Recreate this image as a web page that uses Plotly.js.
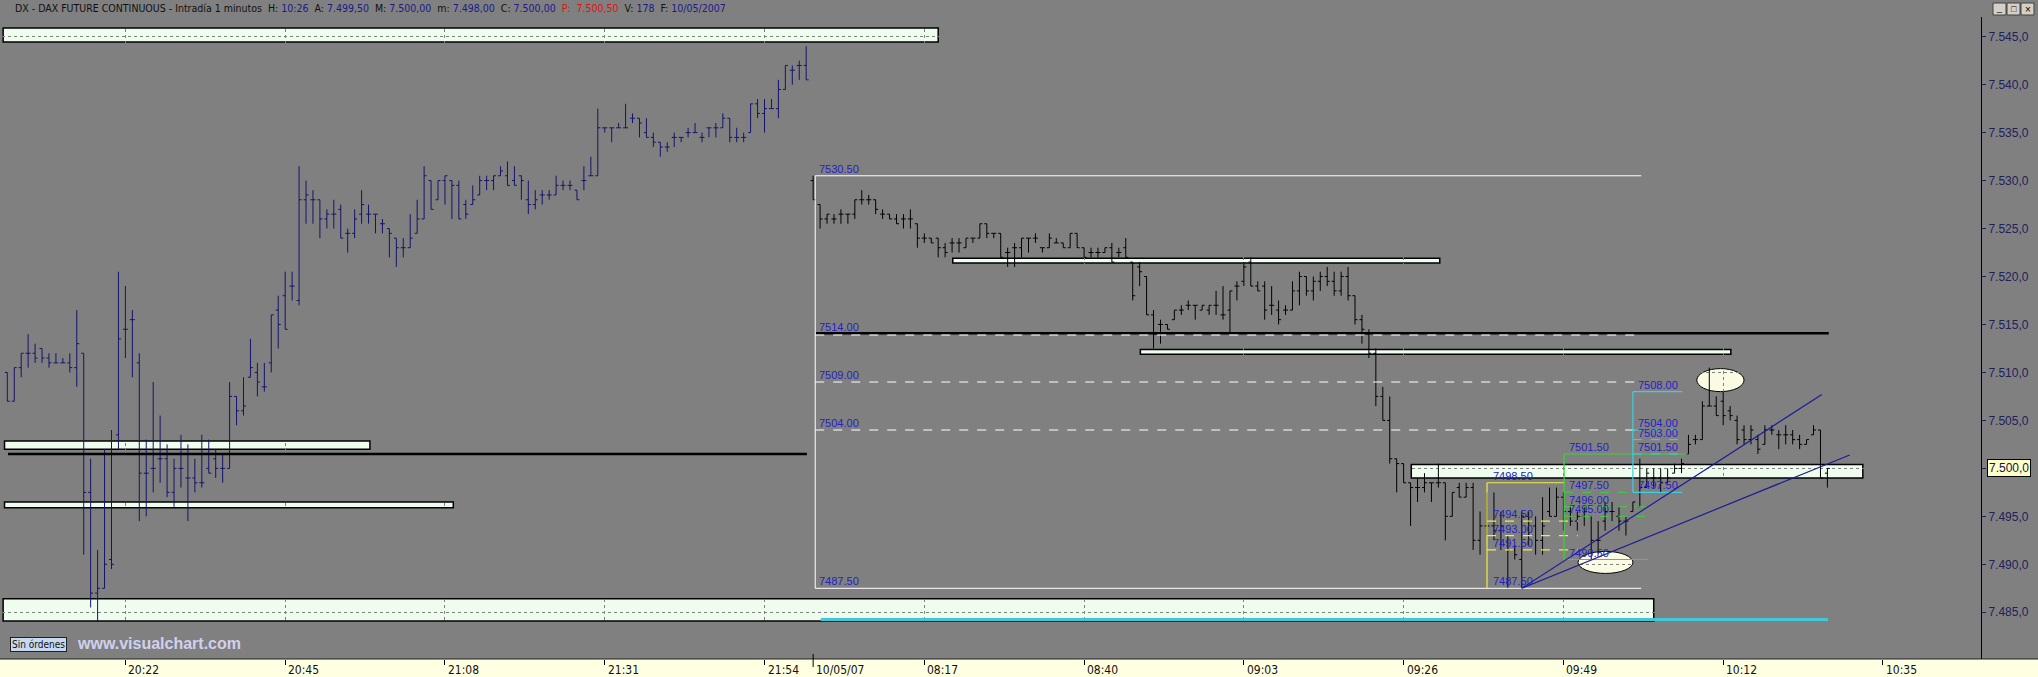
<!DOCTYPE html>
<html><head><meta charset="utf-8">
<script src="https://cdn.plot.ly/plotly-3.0.1.min.js"></script>
<style>html,body{margin:0;padding:0;background:#808080;overflow:hidden}</style>
</head><body><div id="chart" style="width:2038px;height:677px"></div>
<script>
// ---------- DATA ----------
// previous session (20:05 - 22:00), 1-minute bars
const leftOpen = [7510,7507,7510.5,7512,7512,7512.5,7511.5,7511,7511,7511,
7510.5,7512,7497.5,7487,7487.5,7490.5,7503.5,7514.5,7515.5,7511,
7499.5,7500,7501,7501,7497.5,7500,7499,7499,7498.5,7500,
7501,7500,7500,7507.5,7506,7509.5,7510,7508.5,7511,7516.5,
7518,7519,7517.5,7528,7528,7528,7526,7526.5,7527,7524.5,
7524.5,7526.5,7526.5,7526.5,7525.5,7525,7524,7523,7523,7524.5,
7526,7530,7528,7530,7530,7529.5,7527.5,7527.5,7528.5,7530,
7530,7530.5,7530.5,7530,7530.5,7528,7527.5,7528.5,7528.5,7528.5,
7529.5,7529.5,7529,7530,7530.5,7530.5,7535.5,7535.5,7535.5,7535.5,
7536.5,7536.5,7535,7534.5,7534,7533.5,7534.5,7534.5,7535,7535,
7534.5,7535.5,7535.5,7535.5,7536.5,7534.5,7534.5,7535,7538,7537,
7537.5,7537.5,7539.5,7541.5,7542,7542];
const leftHigh = [7510,7510.5,7512,7514,7513,7512.5,7512,7512,7511.5,7512,
7516.5,7512,7501,7491.5,7502,7504,7520.5,7519,7516.5,7512,
7503,7509,7505.5,7502.5,7501,7503.5,7502.5,7501,7503.5,7503,
7502,7501.5,7509,7507.5,7509.5,7513.5,7511,7511,7516,7518,
7520.5,7520.5,7531.5,7530,7529,7528,7527,7528,7527.5,7525,
7527,7529,7527.5,7526.5,7526,7525,7524,7524,7526.5,7528,
7531.5,7530,7530,7530.5,7530,7530,7528,7529.5,7530.5,7530.5,
7530.5,7531.5,7532,7531.5,7530.5,7530,7529,7529,7529,7530.5,
7530,7530,7529,7531.5,7532.5,7537.5,7535.5,7535.5,7536,7538,
7537,7536.5,7536.5,7535,7534,7534,7535,7534.5,7535.5,7536,
7535,7535.5,7536,7537,7536.5,7535.5,7535,7538,7538.5,7538.5,
7538.5,7540.5,7542,7542,7542.5,7544];
const leftLow = [7507,7507,7509.5,7510.5,7511,7511,7510.5,7511,7511,7510,
7508.5,7491,7485.5,7484,7487.5,7489.5,7502,7511.5,7509.5,7494.5,
7495,7497.5,7498.5,7497,7496,7498,7494.5,7497.5,7498,7499.5,
7499,7498.5,7500,7504.5,7505.5,7509.5,7507.5,7508,7510,7512.5,
7514.5,7517.5,7517,7525.5,7525.5,7524,7525,7525,7524,7522.5,
7524,7525.5,7525.5,7524.5,7524.5,7522,7521,7522,7523,7524.5,
7526,7527,7528,7527.5,7526,7526,7526,7527.5,7528.5,7529,
7529,7530.5,7529.5,7529.5,7528,7526.5,7527,7527.5,7528,7528.5,
7529,7529,7528,7529,7530.5,7530.5,7535,7534,7535.5,7535.5,
7536,7534.5,7534.5,7533.5,7532.5,7533,7533.5,7534,7534.5,7535,
7534,7534.5,7534.5,7535.5,7534,7534,7534,7535,7536.5,7535,
7537.5,7536.5,7539.5,7540,7540.5,7540.5];
const leftClose = [7507,7510.5,7512,7512,7511.5,7511.5,7511,7511,7511,7510.5,
7513,7497.5,7487,7487.5,7490,7490,7513.5,7514.5,7515.5,7499.5,
7499.5,7500,7501,7497.5,7500,7500,7499,7498.5,7498.5,7499.5,
7500,7500,7507.5,7506,7506.5,7510.5,7509,7508.5,7516,7515,
7514.5,7519,7528,7528.5,7528,7526,7526.5,7526.5,7524,7524.5,
7526,7527.5,7526.5,7526.5,7525.5,7524.5,7523,7523,7524,7526,
7530.5,7527,7530,7530.5,7529.5,7526,7526.5,7528,7530,7530,
7530.5,7531,7529.5,7529.5,7530,7527.5,7528,7528.5,7528.5,7529.5,
7529.5,7529.5,7528,7530,7530.5,7535.5,7535.5,7535.5,7535.5,7535.5,
7536.5,7536,7534.5,7534,7533.5,7533.5,7534.5,7534.5,7535,7535,
7534.5,7535.5,7535.5,7536.5,7534.5,7534.5,7534.5,7538,7537,7537.5,
7537.5,7539.5,7542,7541.5,7542,7540.5];

// current session 10/05/07 (08:01 - 10:27)
const rightOpen = [7530,7527.5,7526,7526,7526.5,7526.5,7526.5,7528,7528,7528,
7526.5,7526.5,7526,7526,7526,7525.5,7524,7524,7524,7523,
7523.5,7523.5,7523,7524,7524,7525.5,7524.5,7524.5,7522.5,7523,
7523,7524,7524,7523,7523,7523.5,7523.5,7523,7524.5,7523,
7522.5,7522.5,7522.5,7523,7522.5,7523,7521.5,7521,7520,7516,
7515,7515,7515.5,7516.5,7517,7517,7516.5,7516.5,7517,7516,
7516.5,7519,7519.5,7521.5,7519,7519,7517,7516.5,7516.5,7516.5,
7518.5,7520,7518.5,7519.5,7520,7519.5,7518.5,7520,7518,7515.5,
7514,7512,7507.5,7505,7501,7500.5,7498.5,7498,7498,7498.5,
7498.5,7498.5,7495,7498,7497,7498,7492.5,7494,7494,7493.5,
7493,7491.5,7490.5,7495,7494,7492.5,7495.5,7495,7497,7495.5,
7494.5,7495,7495,7492.5,7494.5,7495.5,7495,7494.5,7495.5,7496,
7498,7499,7499,7498.5,7499.5,7500,7501.5,7503,7503,7506.5,
7506.5,7507,7506,7505,7504,7503,7503,7502.5,7504,7503.5,
7503.5,7503.5,7503,7502.5,7503.5,7504,7499.5];
const rightHigh = [7530.5,7527.5,7526.5,7526.5,7527,7526.5,7528,7529,7528.5,7528,
7527,7526.5,7526.5,7526.5,7527,7525.5,7524.5,7524,7524,7523.5,
7524,7524,7524,7524,7525.5,7525.5,7524.5,7524.5,7523,7523.5,
7524,7524,7524.5,7523,7524.5,7524,7523.5,7524.5,7524.5,7523,
7523,7523,7523,7523.5,7523,7524,7521.5,7521.5,7520,7516.5,
7515.5,7515,7516.5,7517,7517.5,7517,7517,7517,7518.5,7519,
7518.5,7519.5,7521.5,7522,7519.5,7519.5,7519,7517.5,7517,7519.5,
7520.5,7520,7520,7520.5,7521,7520.5,7520.5,7521,7518,7516,
7514.5,7512.5,7508.5,7507.5,7501,7500.5,7498.5,7499,7499.5,7498.5,
7500.5,7498.5,7497.5,7498.5,7498.5,7498.5,7495.5,7497.5,7497.5,7495.5,
7493,7492,7495.5,7495.5,7495,7497,7498,7498,7497.5,7496,
7495.5,7496,7495,7494.5,7496.5,7496.5,7496,7495,7496.5,7501,
7500,7500,7500,7500,7500.5,7501,7503.5,7503.5,7507,7510.5,
7507.5,7508,7506.5,7505.5,7504.5,7504.5,7503.5,7504.5,7504.5,7504,
7504.5,7504,7503.5,7503,7504.5,7504,7500];
const rightLow = [7528,7525,7525.5,7525.5,7525.5,7525.5,7526,7527.5,7527.5,7526.5,
7526,7526,7525.5,7525,7525,7523,7523.5,7523.5,7522,7522,
7522.5,7522.5,7523,7523.5,7524,7524,7524,7522,7521,7521,
7522,7522.5,7523.5,7522.5,7523,7523.5,7523,7523,7523,7522,
7522,7522,7522.5,7521.5,7522,7522,7517.5,7519,7516,7512.5,
7513,7514.5,7515.5,7516,7516.5,7515.5,7516.5,7516,7516,7515.5,
7514,7517.5,7519,7519,7518.5,7515.5,7516,7515,7516,7516.5,
7517,7518,7517.5,7518.5,7519,7518,7518,7517.5,7515,7513,
7511.5,7506.5,7505,7500.5,7497.5,7498.5,7494,7496.5,7497.5,7496.5,
7498,7492.5,7495,7497,7497,7491.5,7491,7493,7492.5,7491.5,
7487.5,7490.5,7487.5,7492,7491,7491,7495,7495,7493.5,7494,
7493.5,7494,7490.5,7491,7493.5,7494.5,7493.5,7493,7495.5,7496,
7498,7498,7497.5,7498.5,7499.5,7499.5,7501.5,7502.5,7503,7506.5,
7505.5,7504.5,7505,7502.5,7502.5,7502.5,7501.5,7502.5,7503.5,7502,
7502.5,7502.5,7502,7502.5,7503.5,7499,7498];
const rightClose = [7528,7526,7526.5,7526,7526.5,7526.5,7528,7528,7528,7527,
7526.5,7526,7525.5,7526,7526,7524,7524,7523.5,7523,7522.5,
7523.5,7523.5,7524,7524,7525.5,7524.5,7524.5,7522,7522.5,7523,
7524,7524,7524,7523,7524,7523.5,7523,7524.5,7523,7522,
7522.5,7522.5,7523,7521.5,7522.5,7522,7518,7520.5,7516,7514,
7515,7514.5,7516.5,7516.5,7517,7517,7517,7517,7517,7516,
7518.5,7519,7521,7519,7518.5,7516.5,7517,7515.5,7516.5,7518.5,
7520,7518.5,7519.5,7520,7519.5,7518.5,7520,7518,7515.5,7514.5,
7512,7507.5,7505,7501,7500.5,7498.5,7498,7498,7498.5,7498.5,
7498.5,7495,7497.5,7497,7498,7492.5,7494,7494,7493.5,7494,
7491.5,7491,7495,7494.5,7492.5,7494,7495,7497,7495.5,7494.5,
7495,7495.5,7492.5,7492.5,7495.5,7495.5,7494.5,7494.5,7496.5,7498,
7499.5,7499,7498.5,7499,7500,7500.5,7502.5,7503,7506.5,7506.5,
7505.5,7505.5,7505.5,7503,7503,7504,7502,7504,7504,7503.5,
7503.5,7503,7502.5,7503,7504,7499,7500];

// time axis labels (bar index of each label)
const xTickLabels = ['20:22','20:45','21:08','21:31','21:54','10/05/07','08:17','08:40','09:03','09:26','09:49','10:12','10:35'];
const xTickIndex  = [17,40,63,86,109,116,132,155,178,201,224,247,270];
const yTickValues = [7485,7490,7495,7500,7505,7510,7515,7520,7525,7530,7535,7540,7545];

// drawn price levels
const whiteLevels  = [7530.5, 7514, 7509, 7504, 7487.5];
const yellowLevels = [7498.5, 7494.5, 7493, 7491.5, 7487.5];
const greenLevels  = [7501.5, 7497.5, 7496, 7495, 7490.5];
const cyanLevels   = [7508, 7504, 7503, 7501.5, 7497.5];

// header quote
const headerNames  = ['H','A','M','m','C','P','V','F'];
const headerValues = ['10:26','7.499,50','7.500,00','7.498,00','7.500,00','7.500,50','178','10/05/2007'];
const lastPrice = 7500;

// ---------- LAYOUT HELPERS ----------
const W = 2038, H = 677;
const PL = 2, PR = 1981, PT = 17, PB = 659;
const pxX = px => (px - PL) / (PR - PL);
const pxY = py => (PB - py) / (PB - PT);
const NAVY = '#14146a';
const LBL = '#2222c8';
const FONT = 'Liberation Sans, Arial, sans-serif';
const NARROW = 'Liberation Sans Narrow, Arial Narrow, DejaVu Sans Condensed, Liberation Sans, sans-serif';

const leftX = leftOpen.map((_, i) => i);
const rightX = rightOpen.map((_, i) => 116 + i);

const traces = [
  {type:'ohlc', x:leftX, open:leftOpen, high:leftHigh, low:leftLow, close:leftClose,
   increasing:{line:{color:NAVY, width:1}}, decreasing:{line:{color:NAVY, width:1}},
   tickwidth:0.36, hoverinfo:'skip', showlegend:false},
  {type:'ohlc', x:rightX, open:rightOpen, high:rightHigh, low:rightLow, close:rightClose,
   increasing:{line:{color:'#000', width:1}}, decreasing:{line:{color:'#000', width:1}},
   tickwidth:0.36, hoverinfo:'skip', showlegend:false}
];

const shapes = [];
function band(x0, x1, y0, y1) {
  shapes.push({type:'rect', xref:'x', yref:'y', x0, x1, y0, y1, fillcolor:'#effdef',
    line:{color:'#000', width:1.5}, layer:'below'});
}
function ell(x0, x1, y0, y1) {
  shapes.push({type:'circle', xref:'x', yref:'y', x0, x1, y0, y1, fillcolor:'#fbfbe4',
    line:{color:'#000', width:1}, layer:'below'});
}
function seg(x0, y0, x1, y1, color, width, dash) {
  shapes.push({type:'line', xref:'x', yref:'y', x0, y0, x1, y1,
    line:{color, width, dash: dash || 'solid'}, layer:'above'});
}
// support / resistance bands
band(-0.6, 134.0, 7544.45, 7545.9);
band(-0.4, 52.2, 7502.0, 7502.85);
band(-0.4, 64.2, 7495.9, 7496.5);
band(-0.6, 237.0, 7484.1, 7486.4);
band(136.1, 206.2, 7521.4, 7521.9);
band(163.1, 248.1, 7511.9, 7512.4);
band(202.1, 267.1, 7499.0, 7500.4);
ell(226.1, 234.0, 7489.05, 7491.35);
ell(243.2, 250.0, 7508.0, 7510.4);

// black levels
seg(0.1, 7501.5, 115.1, 7501.5, '#000', 2.5);
seg(116.4, 7514.08, 262.2, 7514.08, '#000', 2.5);
// white range box
seg(116.3, whiteLevels[0], 235.2, whiteLevels[0], '#ffffff', 1);
seg(116.3, whiteLevels[4], 235.2, whiteLevels[4], '#ffffff', 1);
seg(116.3, whiteLevels[4], 116.3, whiteLevels[0], '#ffffff', 1);
seg(116.3, whiteLevels[1] - 0.1, 235.0, whiteLevels[1] - 0.1, '#ffffff', 1, 'dash');
seg(116.3, whiteLevels[2], 235.0, whiteLevels[2], '#ffffff', 1, 'dash');
seg(116.3, whiteLevels[3], 235.0, whiteLevels[3], '#ffffff', 1, 'dash');
// yellow retracement
const YEL = '#f0ec40';
seg(213.0, yellowLevels[4], 213.0, yellowLevels[0], YEL, 1.2);
seg(213.0, yellowLevels[0], 224.2, yellowLevels[0], YEL, 1.2);
[1,2,3].forEach(i => seg(213.0, yellowLevels[i], 226.1, yellowLevels[i], YEL, 1.2, 'dash'));
// green retracement
const GRN = '#3cd23c';
seg(224.1, greenLevels[4], 224.1, greenLevels[0], GRN, 1.2);
seg(224.1, greenLevels[0], 241.9, greenLevels[0], GRN, 1.2);
seg(224.1, greenLevels[4], 236.2, greenLevels[4], GRN, 1.2);
[1,2,3].forEach(i => seg(224.1, greenLevels[i], 236.0, greenLevels[i], GRN, 1, 'dash'));
// cyan retracement
const CYN = '#3cd0e0';
seg(234.0, cyanLevels[4], 234.0, cyanLevels[0], CYN, 1.2);
seg(234.0, cyanLevels[0], 241.1, cyanLevels[0], CYN, 1.2);
seg(234.0, cyanLevels[4], 241.1, cyanLevels[4], CYN, 1.2);
[1,2,3].forEach(i => seg(234.0, cyanLevels[i], 241.1, cyanLevels[i], CYN, 1, 'dash'));
// bottom cyan level
seg(117.1, 7484.25, 262.1, 7484.25, '#40c8d8', 3);
// trend lines
seg(218.0, 7487.5, 261.2, 7507.7, '#1c1c96', 1.2);
seg(218.0, 7487.5, 265.2, 7501.4, '#1c1c96', 1.2);

// bottom time strip
shapes.push({type:'rect', xref:'paper', yref:'paper', x0:pxX(0), x1:pxX(W), y0:pxY(H), y1:pxY(PB),
  fillcolor:'#ffffe1', line:{width:0}, layer:'below'});
shapes.push({type:'line', xref:'paper', yref:'paper', x0:pxX(0), x1:pxX(W), y0:pxY(PB), y1:pxY(PB),
  line:{color:'#202020', width:1}, layer:'above'});
// separator tick for new session
shapes.push({type:'line', xref:'x', yref:'paper', x0:116, x1:116, y0:pxY(654), y1:pxY(667),
  line:{color:'#000', width:1}, layer:'above'});
// window buttons
[1993, 2007, 2021].forEach(bx => shapes.push({type:'rect', xref:'paper', yref:'paper',
  x0:pxX(bx), x1:pxX(bx + 13), y0:pxY(15), y1:pxY(3), fillcolor:'#d4d0c8',
  line:{color:'#404040', width:1}, layer:'above'}));

// ---------- ANNOTATIONS ----------
const annotations = [];
function lvlLabels(levels, x) {
  levels.forEach(v => annotations.push({xref:'x', yref:'y', x, y:v, text:v.toFixed(2),
    xanchor:'left', yanchor:'bottom', showarrow:false, borderpad:0, yshift:0,
    font:{family:FONT, size:11, color:LBL}}));
}
lvlLabels(whiteLevels, 116.7);
lvlLabels(yellowLevels, 213.7);
lvlLabels(greenLevels, 224.7);
lvlLabels(cyanLevels, 234.6);

// time labels
xTickLabels.forEach((t, i) => annotations.push({xref:'x', yref:'paper', x:xTickIndex[i],
  y:pxY(670), text:t, xanchor:'left', yanchor:'middle', xshift:1, showarrow:false,
  font:{family:NARROW, size:12, color:'#101010'}}));

// header
const blue = s => '<span style="color:#1a1a8c">' + s + '</span>';
let hdr = 'DX - DAX FUTURE CONTINUOUS - Intradía 1 minutos';
headerNames.forEach((n, i) => {
  if (n === 'P') hdr += '&nbsp; <span style="color:#e01010">' + n + ':&nbsp; ' + headerValues[i] + '</span>';
  else hdr += '&nbsp; ' + n + ': ' + blue(headerValues[i]);
});
annotations.push({xref:'paper', yref:'paper', x:pxX(13), y:pxY(8), text:hdr, xanchor:'left',
  yanchor:'middle', showarrow:false, font:{family:NARROW, size:10.5, color:'#101010'}});

// window button glyphs
annotations.push({xref:'paper', yref:'paper', x:pxX(1999.5), y:pxY(9), text:'_', showarrow:false,
  xanchor:'center', yanchor:'middle', font:{family:FONT, size:9, color:'#000'}, yshift:1});
annotations.push({xref:'paper', yref:'paper', x:pxX(2013.5), y:pxY(9), text:'□', showarrow:false,
  xanchor:'center', yanchor:'middle', font:{family:FONT, size:9, color:'#000'}});
annotations.push({xref:'paper', yref:'paper', x:pxX(2027.5), y:pxY(9), text:'×', showarrow:false,
  xanchor:'center', yanchor:'middle', font:{family:FONT, size:10, color:'#000'}});

// last price box
annotations.push({xref:'paper', yref:'y', x:pxX(1987), y:lastPrice,
  text:(lastPrice/1000).toFixed(4).replace(/(\d)\.(\d{3})\d$/, '$1.$2,0'),
  xanchor:'left', yanchor:'middle', showarrow:false, bgcolor:'#ffffc8', bordercolor:'#000',
  borderwidth:1, borderpad:1, font:{family:FONT, size:12, color:'#10105a'}});

// footer
annotations.push({xref:'paper', yref:'paper', x:pxX(38.5), y:pxY(644.5), text:'Sin órdenes',
  xanchor:'center', yanchor:'middle',
  showarrow:false, bgcolor:'#c8d8ee', bordercolor:'#202020', borderwidth:1, borderpad:1,
  font:{family:NARROW, size:10, color:'#101010'}});
annotations.push({xref:'paper', yref:'paper', x:pxX(75), y:pxY(643), text:'<b>www.visualchart.com</b>',
  xanchor:'left', yanchor:'middle', showarrow:false,
  font:{family:FONT, size:16, color:'#d0d0ee'}});

const layout = {
  width:W, height:H,
  margin:{l:PL, r:W - PR, t:PT, b:H - PB, pad:0},
  paper_bgcolor:'#808080', plot_bgcolor:'#808080',
  separators:',.',
  showlegend:false, hovermode:false, dragmode:false,
  xaxis:{type:'linear', range:[-0.763, 284.11], rangeslider:{visible:false},
    tickvals:xTickIndex.filter((_, i) => xTickLabels[i].indexOf('/') < 0),
    showticklabels:false, ticks:'outside', ticklen:5, tickcolor:'#000', tickwidth:1,
    showgrid:true, gridcolor:'#808080', griddash:'dot', gridwidth:1,
    zeroline:false, showline:false, fixedrange:true},
  yaxis:{side:'right', range:[7480.13, 7547.05], tickvals:yTickValues, tickformat:',.1f',
    ticks:'outside', ticklen:4, tickcolor:'#20205a', tickwidth:1,
    showline:true, linecolor:'#000', linewidth:1,
    showgrid:true, gridcolor:'#808080', griddash:'dot', gridwidth:1,
    zeroline:false, fixedrange:true,
    tickfont:{family:FONT, size:12, color:'#20205e'}},
  shapes, annotations
};

Plotly.newPlot('chart', traces, layout, {staticPlot:true, displayModeBar:false});
</script></body></html>
